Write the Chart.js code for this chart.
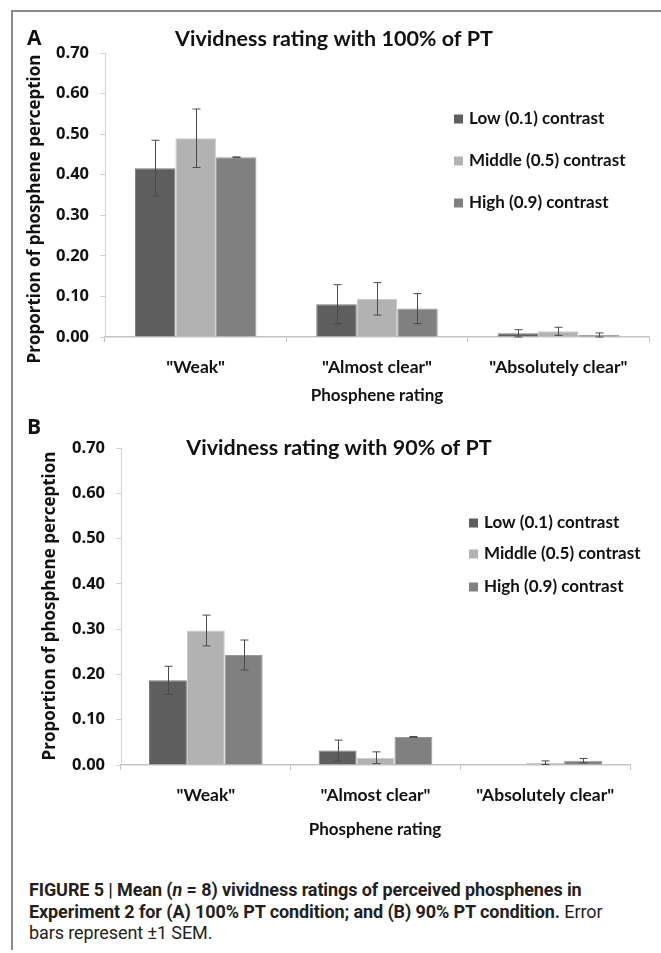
<!DOCTYPE html>
<html>
<head>
<meta charset="utf-8">
<script src="https://cdn.jsdelivr.net/npm/chart.js@4.4.1/dist/chart.umd.min.js"></script>
<style>
  body { margin: 0; background: #fff; }
  #page { position: relative; width: 661px; height: 953px; overflow: hidden; background: #fff; }
  #frameTop { position: absolute; left: 11px; top: 10px; width: 650px; height: 2px; background: #8a8a8a; }
  #frameLeft { position: absolute; left: 11px; top: 10px; width: 2px; height: 940px; background: #8a8a8a; }
  #chartA { position: absolute; left: 0; top: 0; }
  #chartB { position: absolute; left: 0; top: 415px; }
  #caption {
    position: absolute; left: 29px; top: 879px; width: 630px;
    font-family: Roboto, sans-serif; font-size: 18px; line-height: 21.5px; color: #231f20;
    white-space: nowrap; letter-spacing: -0.1px;
  }
  #caption b { font-weight: 700; }
</style>
</head>
<body>
<div id="page">
  <div id="frameTop"></div>
  <div id="frameLeft"></div>
  <canvas id="chartA" width="661" height="415"></canvas>
  <canvas id="chartB" width="661" height="435"></canvas>
  <div id="caption"><b>FIGURE 5 | Mean (<i>n</i> = 8) vividness ratings of perceived phosphenes in<br>Experiment 2 for (A) 100% PT condition; and (B) 90% PT condition.</b> Error<br>bars represent ±1 SEM.</div>
</div>
<script>
// categories and series
const categories = ['"Weak"', '"Almost clear"', '"Absolutely clear"'];
const seriesNames = ["Low (0.1) contrast", "Middle (0.5) contrast", "High (0.9) contrast"];
const yTicks = [0, 0.1, 0.2, 0.3, 0.4, 0.5, 0.6, 0.7];

// panel A - 100% of PT
const lowA = [0.416, 0.081, 0.009];
const midA = [0.490, 0.094, 0.014];
const highA = [0.443, 0.070, 0.005];
const lowErrA = [0.069, 0.048, 0.009];
const midErrA = [0.072, 0.040, 0.010];
const highErrA = [0.001, 0.037, 0.005];

// panel B - 90% of PT
const lowB = [0.187, 0.032, 0];
const midB = [0.297, 0.016, 0.005];
const highB = [0.243, 0.062, 0.0095];
const lowErrB = [0.031, 0.023, 0];
const midErrB = [0.034, 0.013, 0.004];
const highErrB = [0.033, 0.001, 0.005];

const fillColors = ["#5e5e5e", "#b2b2b2", "#808080"];
const edgeColors = ["#7a7a7a", "#c8c8c8", "#999999"];

// error bars drawn on top of each bar
const errorBars = {
    id: "errorBars",
    afterDatasetsDraw(chart) {
        const ctx = chart.ctx;
        const y = chart.scales.y;
        ctx.save();
        ctx.strokeStyle = "#4a4a4a";
        ctx.lineWidth = 1;
        chart.data.datasets.forEach((ds, i) => {
            chart.getDatasetMeta(i).data.forEach((bar, j) => {
                const e = ds.errors[j];
                if (!e) return;
                const v = ds.data[j];
                const x = Math.round(bar.x) + 0.5;
                const top = y.getPixelForValue(v + e);
                const bot = y.getPixelForValue(Math.max(0, v - e));
                ctx.beginPath();
                ctx.moveTo(x, top); ctx.lineTo(x, bot);
                ctx.moveTo(x - 4, top); ctx.lineTo(x + 4, top);
                ctx.moveTo(x - 4, bot); ctx.lineTo(x + 4, bot);
                ctx.stroke();
            });
        });
        ctx.restore();
    }
};

// panel letter, title, axis titles and legend
const panelText = {
    id: "panelText",
    afterDraw(chart, args, o) {
        const ctx = chart.ctx;
        ctx.save();
        ctx.fillStyle = "#111";
        ctx.textBaseline = "middle";

        ctx.textAlign = "left";
        ctx.font = 'bold 21px "Open Sans"';
        ctx.fillText(o.letter, o.letterX, o.letterY);

        ctx.textAlign = "center";
        ctx.font = "bold 21.5px Lato";
        ctx.fillText(o.title, o.titleX, o.titleY);

        ctx.font = "bold 17px Lato";
        ctx.fillText("Phosphene rating", o.xTitleX, o.xTitleY);

        ctx.save();
        ctx.translate(o.yTitleX, o.yTitleY);
        ctx.rotate(-Math.PI / 2);
        ctx.font = 'bold 17px "Open Sans"';
        ctx.fillText("Proportion of phosphene perception", 0, 0);
        ctx.restore();

        ctx.textAlign = "left";
        ctx.font = "bold 17px Lato";
        chart.data.datasets.forEach((ds, i) => {
            const ly = o.legendY[i];
            ctx.fillStyle = ds.backgroundColor;
            ctx.fillRect(o.legendX, ly - 4.5, 9, 9);
            ctx.fillStyle = "#111";
            ctx.fillText(ds.label, o.legendX + 15, ly);
        });
        ctx.restore();
    }
};

function make_chart(canvasId, values, errors, layout) {
    const ctx = document.getElementById(canvasId).getContext("2d");
    return new Chart(ctx, {
        type: "bar",
        data: {
            labels: categories,
            datasets: values.map((vals, i) => ({
                label: seriesNames[i],
                data: vals,
                errors: errors[i],
                backgroundColor: fillColors[i],
                borderColor: edgeColors[i],
                borderWidth: 1,
                categoryPercentage: 0.67,
                barPercentage: 1.0
            }))
        },
        options: {
            responsive: false,
            animation: false,
            devicePixelRatio: 1,
            layout: {
                padding: { top: layout.top, right: layout.right, left: 0, bottom: 0 }
            },
            plugins: {
                legend: { display: false },
                tooltip: { enabled: false },
                panelText: layout.text
            },
            scales: {
                x: {
                    offset: true,
                    grid: { offset: true, drawOnChartArea: false, drawTicks: true, tickLength: 5, color: "#c4c4c4" },
                    border: { color: "#c4c4c4", width: 1.5 },
                    ticks: {
                        color: "#111",
                        padding: 15,
                        maxRotation: 0,
                        autoSkip: false,
                        font: { family: "Lato", weight: "bold", size: 17.5 }
                    },
                    afterFit: scale => { scale.height = layout.xHeight; }
                },
                y: {
                    min: yTicks[0],
                    max: yTicks[yTicks.length - 1],
                    grid: { drawOnChartArea: false, drawTicks: true, tickLength: 5, color: "#d2d2d2" },
                    border: { color: "#d2d2d2", width: 1 },
                    ticks: {
                        stepSize: yTicks[1] - yTicks[0],
                        color: "#111",
                        padding: 11,
                        font: { family: "Open Sans", weight: "bold", size: 16.5 },
                        callback: v => Number(v).toFixed(2)
                    },
                    afterFit: scale => { scale.width = layout.yWidth; }
                }
            }
        },
        plugins: [errorBars, panelText]
    });
}

document.addEventListener("DOMContentLoaded", function () {
    make_chart("chartA", [lowA, midA, highA], [lowErrA, midErrA, highErrA], {
        top: 53, right: 12, yWidth: 105, xHeight: 78,
        text: {
            letter: "A", letterX: 27, letterY: 39,
            title: "Vividness rating with 100% of PT", titleX: 334, titleY: 39,
            xTitleX: 377, xTitleY: 396,
            yTitleX: 35, yTitleY: 209,
            legendX: 454, legendY: [119, 161, 203]
        }
    });
    make_chart("chartB", [lowB, midB, highB], [lowErrB, midErrB, highErrB], {
        top: 33, right: 31, yWidth: 121, xHeight: 85,
        text: {
            letter: "B", letterX: 27, letterY: 13,
            title: "Vividness rating with 90% of PT", titleX: 339, titleY: 33,
            xTitleX: 375, xTitleY: 415,
            yTitleX: 50, yTitleY: 191,
            legendX: 469, legendY: [108, 139, 172]
        }
    });
});
</script>
</body>
</html>
